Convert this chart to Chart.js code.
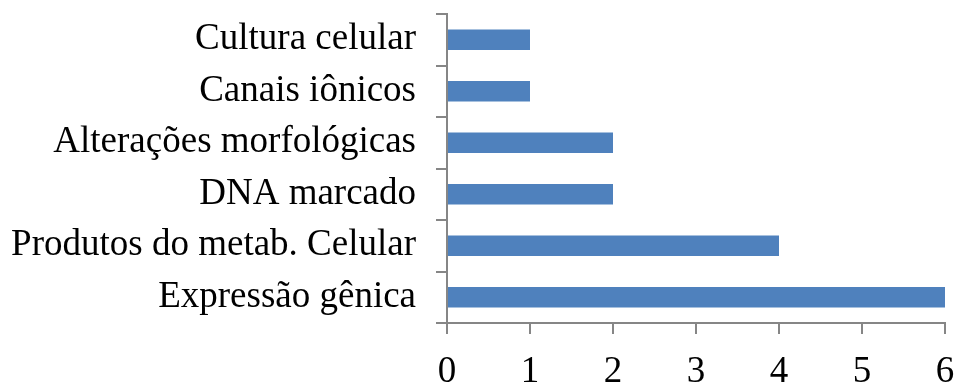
<!DOCTYPE html>
<html><head><meta charset="utf-8">
<script src="https://cdn.jsdelivr.net/npm/chart.js@4/dist/chart.umd.min.js"></script>
<style>html,body{margin:0;padding:0;background:#fff}#wrap{width:957px;height:385px}</style>
</head><body><div id="wrap"><canvas id="c" width="957" height="385"></canvas></div>
<script>
const categories = ["Cultura celular","Canais iônicos","Alterações morfológicas","DNA marcado","Produtos do metab. Celular","Expressão gênica"];
const values = [1,1,2,2,4,6];
const xTicks = [0,1,2,3,4,5,6];

const FONT = {family: "'Liberation Serif','Times New Roman',serif", size: 37};
new Chart(document.getElementById('c'), {
  type: 'bar',
  data: {labels: categories, datasets: [{data: values, backgroundColor: '#4F81BD', borderWidth: 0, barPercentage: 0.4, categoryPercentage: 1.0}]},
  options: {
    indexAxis: 'y', responsive: false, animation: false,
    layout: {padding: {left: 0, right: 12, top: 14, bottom: 0}},
    plugins: {legend: {display: false}, tooltip: {enabled: false}},
    scales: {
      x: {min: 0, max: 6, afterBuildTicks: s => { s.ticks = xTicks.map(v => ({value: v})); },
          grid: {drawOnChartArea: false, drawTicks: true, tickLength: 11, color: '#868686', lineWidth: 2},
          border: {color: '#868686', width: 2},
          ticks: {color: '#000', font: FONT, padding: 16, maxRotation: 0},
          afterFit: s => { s.height = 62; s.paddingLeft = 0; s.paddingRight = 0; }},
      y: {grid: {drawOnChartArea: false, drawTicks: true, tickLength: 11, color: '#868686', lineWidth: 2, offset: true},
          border: {color: '#868686', width: 2},
          ticks: {color: '#000', font: FONT, padding: 20, autoSkip: false},
          afterFit: s => { s.width = 447; s.paddingTop = 0; s.paddingBottom = 0; }}
    }
  }
});
</script></body></html>
